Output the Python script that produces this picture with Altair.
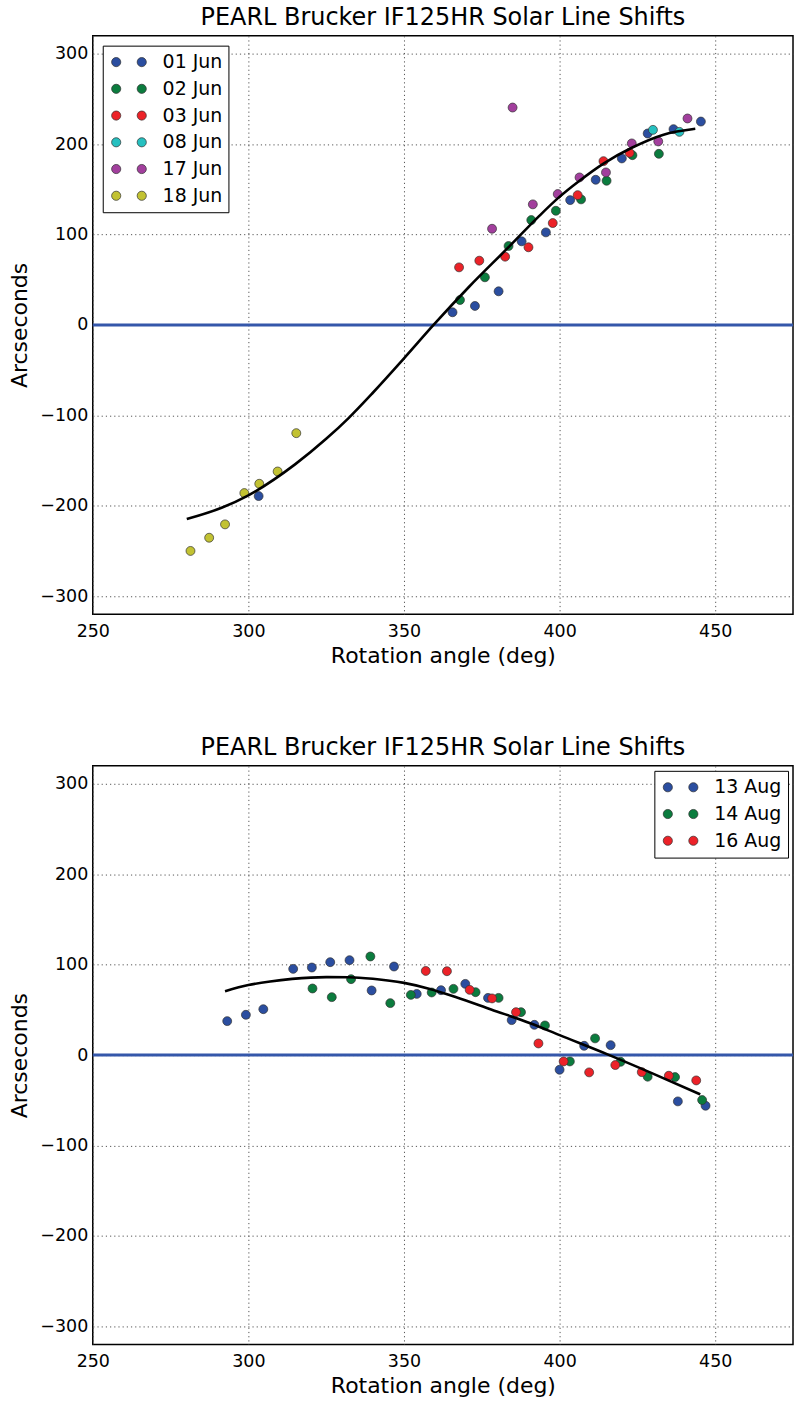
import altair as alt
import pandas as pd

TITLE = "PEARL Brucker IF125HR Solar Line Shifts"
FONT = "DejaVu Sans"

# ---------------- top panel (June) ----------------
jun_dates = ["01 Jun", "02 Jun", "03 Jun", "08 Jun", "17 Jun", "18 Jun"]
jun_colors = ["#2b4ea0", "#0b7c3e", "#ec2228", "#26c0c0", "#a23f9d", "#c2c232"]

jun01_x = [303.3, 365.6, 372.8, 380.4, 387.8, 395.6, 403.4, 411.6, 420.0, 428.3, 436.6, 445.4]
jun01_y = [-189.3, 14.0, 21.0, 37.2, 92.5, 102.4, 138.1, 160.6, 184.2, 211.8, 216.6, 225.0]
jun02_x = [368.0, 376.0, 383.6, 390.9, 398.8, 406.9, 415.1, 423.4, 431.9]
jun02_y = [27.6, 52.7, 87.3, 116.0, 126.3, 138.9, 159.5, 187.8, 189.3]
jun03_x = [367.7, 374.2, 382.5, 390.0, 397.8, 405.8, 414.1, 422.5]
jun03_y = [63.7, 71.1, 75.5, 85.9, 112.7, 143.6, 181.2, 190.4]
jun08_x = [430.0, 438.5]
jun08_y = [215.8, 213.6]
jun17_x = [378.3, 384.9, 391.4, 399.4, 406.4, 414.9, 423.2, 431.7, 441.1]
jun17_y = [106.4, 240.5, 133.4, 144.8, 163.2, 168.7, 200.8, 203.0, 228.4]
jun18_x = [281.4, 287.4, 292.5, 298.7, 303.5, 309.4, 315.4]
jun18_y = [-250.0, -235.4, -220.6, -186.0, -175.7, -162.1, -119.7]

jun_fit_x = [280.2, 291.6, 300.0, 315.1, 325.0, 332.2, 340.0, 350.0, 359.5, 371.0,
             383.6, 393.0, 399.4, 406.4, 414.1, 423.2, 433.4, 443.6]
jun_fit_y = [-214.7, -202.0, -188.5, -154.0, -126.0, -103.0, -75.0, -37.0, 0.0, 42.5,
             86.0, 119.0, 140.0, 159.5, 178.5, 196.0, 210.5, 217.0]

# ---------------- bottom panel (August) ----------------
aug_dates = ["13 Aug", "14 Aug", "16 Aug"]
aug_colors = ["#2b4ea0", "#0b7c3e", "#ec2228"]

aug13_x = [293.2, 299.2, 304.8, 314.4, 320.4, 326.3, 332.5, 339.6, 346.8, 354.1,
           361.9, 369.7, 377.0, 384.6, 391.9, 400.0, 407.9, 416.4, 438.0, 446.9]
aug13_y = [37.6, 44.6, 50.8, 95.4, 96.9, 102.8, 105.0, 71.5, 98.0, 67.7,
           71.8, 78.8, 63.3, 38.7, 33.5, -16.2, 10.3, 11.0, -51.2, -56.0]
aug14_x = [320.6, 326.8, 333.0, 339.2, 345.6, 352.2, 358.9, 365.9, 373.0, 380.4,
           387.6, 395.3, 403.3, 411.4, 419.6, 428.3, 437.1, 445.8]
aug14_y = [73.7, 64.1, 84.0, 109.1, 57.5, 66.6, 69.3, 73.3, 69.6, 63.3,
           47.5, 32.8, -7.0, 18.5, -7.4, -23.9, -24.3, -49.7]
aug16_x = [357.0, 363.8, 371.1, 378.3, 386.0, 393.2, 401.3, 409.5, 417.9, 426.4, 435.1, 443.9]
aug16_y = [93.1, 92.8, 72.2, 62.7, 47.5, 12.9, -7.0, -19.1, -11.0, -18.8, -22.8, -28.0]

aug_fit_x = [292.5, 300.0, 307.0, 314.1, 325.0, 332.2, 340.0, 350.0, 358.0, 366.8,
             378.0, 390.8, 400.0, 415.4, 430.0, 445.2]
aug_fit_y = [70.7, 77.5, 81.5, 84.3, 86.3, 86.2, 84.5, 79.9, 73.5, 64.1,
             50.5, 35.0, 22.1, 0.8, -20.5, -43.4]

x_ticks = [250, 300, 350, 400, 450]
y_ticks = [-300, -200, -100, 0, 100, 200, 300]


def points_frame(dates, xs_list, ys_list):
    rows = []
    for d, xs, ys in zip(dates, xs_list, ys_list):
        for xv, yv in zip(xs, ys):
            rows.append({"angle": xv, "shift": yv, "date": d})
    return pd.DataFrame(rows)


# two-dot legend symbol (matplotlib numpoints=2 look); unit = 10 px at size 400
TWO_DOTS = ("M -0.76 0 A 0.46 0.46 0 1 0 0.16 0 A 0.46 0.46 0 1 0 -0.76 0 Z "
            "M 1.80 0 A 0.46 0.46 0 1 0 2.72 0 A 0.46 0.46 0 1 0 1.80 0 Z")


def panel(df_pts, fit_x, fit_y, dates, colors, legend_orient, legend_offset):
    xscale = alt.Scale(domain=[250, 475], nice=False, zero=False)
    yscale = alt.Scale(domain=[-320, 320], nice=False, zero=False)
    xaxis = alt.Axis(values=x_ticks, title="Rotation angle (deg)", format="d",
                     labelFlush=False)
    yaxis = alt.Axis(values=y_ticks, title="Arcseconds", format="d")

    zero = alt.Chart(pd.DataFrame({"z": [0]})).mark_rule(
        color="#3557aa", strokeWidth=3
    ).encode(y=alt.Y("z:Q", scale=yscale, axis=yaxis))

    fit = alt.Chart(pd.DataFrame({"angle": fit_x, "shift": fit_y})).mark_line(
        color="black", strokeWidth=2.6, interpolate="monotone"
    ).encode(
        x=alt.X("angle:Q", scale=xscale, axis=xaxis),
        y=alt.Y("shift:Q", scale=yscale, axis=yaxis),
    )

    pts = alt.Chart(df_pts).mark_circle(
        size=80, opacity=1, stroke="#333333", strokeWidth=0.7
    ).encode(
        x=alt.X("angle:Q", scale=xscale, axis=xaxis),
        y=alt.Y("shift:Q", scale=yscale, axis=yaxis),
        color=alt.Color(
            "date:N",
            scale=alt.Scale(domain=dates, range=colors),
            legend=alt.Legend(
                title=None,
                orient=legend_orient,
                offset=legend_offset,
                padding=6,
                strokeColor="black",
                fillColor="white",
                symbolType=TWO_DOTS,
                symbolSize=400,
                symbolStrokeColor="#333333",
                symbolStrokeWidth=0.7,
                symbolOpacity=1,
                labelFont=FONT,
                labelFontSize=19,
                labelColor="black",
                labelOffset=33,
                rowPadding=5.8,
            ),
        ),
    )

    return alt.layer(zero, pts, fit).properties(
        width=702,
        height=580,
        title=alt.TitleParams(
            TITLE, font=FONT, fontSize=24, fontWeight="normal", color="black",
            anchor="middle", offset=6
        ),
    )


top = panel(
    points_frame(jun_dates, [jun01_x, jun02_x, jun03_x, jun08_x, jun17_x, jun18_x],
                 [jun01_y, jun02_y, jun03_y, jun08_y, jun17_y, jun18_y]),
    jun_fit_x, jun_fit_y, jun_dates, jun_colors, "top-left", 10,
)
bottom = panel(
    points_frame(aug_dates, [aug13_x, aug14_x, aug16_x], [aug13_y, aug14_y, aug16_y]),
    aug_fit_x, aug_fit_y, aug_dates, aug_colors, "top-right", 5,
)

chart = alt.vconcat(top, bottom, spacing=67).resolve_scale(
    color="independent"
).resolve_legend(color="independent").properties(
    padding={"left": 8, "top": 3, "right": 0, "bottom": 0},
    background="white",
).configure_view(
    stroke="black", strokeWidth=1.5
).configure_axis(
    domain=False,
    ticks=False,
    grid=True,
    gridColor="#555555",
    gridDash=[1.2, 3],
    gridWidth=1,
    labelFont=FONT,
    labelFontSize=17.5,
    labelColor="black",
    titleFont=FONT,
    titleFontSize=22,
    titleFontWeight="normal",
    titleColor="black",
).configure_axisX(
    labelPadding=8, titlePadding=6
).configure_axisY(
    labelPadding=5, titlePadding=8
)

chart.save("out.html", embed_options={"renderer": "svg", "actions": False})
